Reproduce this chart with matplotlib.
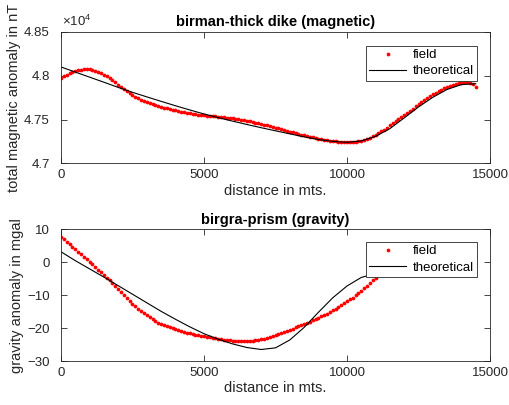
import numpy as np
import matplotlib
matplotlib.use("Agg")
import matplotlib.pyplot as plt
from matplotlib.ticker import FuncFormatter

plt.rcParams['font.family'] = ['Liberation Sans', 'DejaVu Sans']
plt.rcParams['mathtext.fontset'] = 'custom'
plt.rcParams['mathtext.rm'] = 'Liberation Sans'

# magnetic profile (birman - thick dike), field sampled every 100 m
mag_x = np.arange(0, 14501, 100)
mag_field = [
    47976, 47995, 48012, 48027, 48040, 48051, 48062, 48072, 48078, 48080,
    48078, 48070, 48060, 48048, 48032, 48014, 47993, 47970, 47947, 47924,
    47900, 47876, 47852, 47829, 47806, 47784, 47764, 47745, 47728, 47713,
    47700, 47688, 47676, 47665, 47655, 47645, 47636, 47628, 47620, 47612,
    47605, 47598, 47591, 47584, 47578, 47572, 47567, 47562, 47558, 47554,
    47550, 47547, 47544, 47541, 47538, 47534, 47530, 47526, 47522, 47518,
    47514, 47509, 47504, 47499, 47493, 47487, 47480, 47473, 47466, 47458,
    47450, 47442, 47434, 47425, 47416, 47408, 47400, 47391, 47382, 47373,
    47364, 47355, 47346, 47338, 47329, 47321, 47313, 47306, 47298, 47291,
    47285, 47279, 47273, 47267, 47262, 47257, 47253, 47249, 47246, 47244,
    47243, 47243, 47245, 47248, 47253, 47260, 47269, 47280, 47293, 47308,
    47325, 47344, 47365, 47387, 47410, 47434, 47459, 47483, 47505, 47528,
    47552, 47577, 47602, 47627, 47651, 47675, 47699, 47722, 47745, 47767,
    47788, 47808, 47827, 47844, 47861, 47875, 47887, 47898, 47908, 47916,
    47923, 47927, 47928, 47922, 47905, 47875,
]
mag_theo_x = np.arange(0, 14501, 500)
mag_theo = [
    48101, 48043, 47985, 47927, 47868, 47812, 47760, 47709, 47659, 47611,
    47565, 47523, 47483, 47445, 47408, 47373, 47338, 47304, 47274, 47252,
    47242, 47258, 47310, 47398, 47520, 47645, 47755, 47845, 47900, 47910,
]

# gravity profile (birgra - prism), field sampled every 100 m
grav_x = np.arange(0, 11001, 100)
grav_field = [
    7.8, 7.1, 6.3, 5.5, 4.7, 3.9, 3.2, 2.4, 1.7, 0.9,
    0.2, -0.6, -1.4, -2.2, -3.0, -3.8, -4.7, -5.5, -6.4, -7.3,
    -8.2, -9.1, -10.0, -10.9, -11.8, -12.6, -13.4, -14.1, -14.8, -15.5,
    -16.1, -16.7, -17.3, -17.8, -18.3, -18.7, -19.1, -19.5, -19.8, -20.1,
    -20.4, -20.7, -20.9, -21.2, -21.4, -21.6, -21.8, -22.0, -22.2, -22.4,
    -22.5, -22.7, -22.8, -23.0, -23.1, -23.2, -23.4, -23.5, -23.6, -23.7,
    -23.8, -23.8, -23.9, -23.9, -24.0, -24.0, -23.9, -23.8, -23.7, -23.6,
    -23.4, -23.2, -23.0, -22.8, -22.5, -22.2, -21.9, -21.6, -21.3, -20.9,
    -20.5, -20.2, -19.8, -19.5, -19.1, -18.8, -18.4, -18.0, -17.6, -17.2,
    -16.8, -16.4, -16.0, -15.6, -15.1, -14.6, -14.1, -13.6, -13.1, -12.5,
    -11.9, -11.3, -10.7, -10.0, -9.3, -8.6, -7.9, -7.1, -6.3, -5.5,
    -4.7,
]
grav_theo_x = np.arange(0, 11001, 500)
grav_theo = [
    3.2, 0.5, -2.0, -4.5, -7.1, -9.7, -12.3, -14.9, -17.3, -19.6,
    -21.7, -23.4, -24.8, -25.9, -26.5, -26.0, -23.6, -19.8, -15.2, -10.8,
    -7.2, -4.6, -3.4,
]

gray = (0.15, 0.15, 0.15)

fig = plt.figure(figsize=(5.1, 4.05), dpi=100)
ax1 = fig.add_axes([0.1196, 0.5963, 0.8412, 0.3247])
ax2 = fig.add_axes([0.1196, 0.1086, 0.8412, 0.3250])


def style(ax):
    for s in ax.spines.values():
        s.set_color(gray)
        s.set_linewidth(0.6)
    ax.tick_params(direction='in', top=True, right=True, length=4, width=0.6,
                   colors=gray, labelsize=9.5)
    ax.tick_params(axis='y', pad=8)
    ax.tick_params(axis='x', pad=4)
    ax.set_xlim(0, 15000)
    ax.set_xticks([0, 5000, 10000, 15000])


# top: magnetic
ax1.plot(mag_x, mag_field, 'o', color='red', ms=2.7, mew=0, label='field')
ax1.plot(mag_theo_x, mag_theo, '-', color='k', lw=0.8, label='theoretical')
style(ax1)
ax1.set_ylim(47000, 48500)
ax1.set_yticks([47000, 47500, 48000, 48500])
ax1.yaxis.set_major_formatter(FuncFormatter(lambda v, p: '%g' % (v / 1e4)))
ax1.text(0.002, 1.025, r'$\times10^{4}$', transform=ax1.transAxes,
         fontsize=9.5, color=gray, va='bottom', ha='left')
ax1.set_title('birman-thick dike (magnetic)', fontsize=10.5, fontweight='bold', pad=4)
ax1.set_xlabel('distance in mts.', fontsize=10.5, color=gray, labelpad=2)
ax1.set_ylabel('total magnetic anomaly in nT', fontsize=10.5, color=gray, labelpad=2)
leg1 = ax1.legend(loc='upper right', bbox_to_anchor=(0.970, 0.896), borderaxespad=0,
                  fontsize=9.5, fancybox=False, framealpha=1, edgecolor=gray,
                  handlelength=2.8, handletextpad=0.5, borderpad=0.25, labelspacing=0.3)
leg1.get_frame().set_linewidth(0.6)

# bottom: gravity
ax2.plot(grav_x, grav_field, 'o', color='red', ms=2.7, mew=0, label='field')
ax2.plot(grav_theo_x, grav_theo, '-', color='k', lw=0.8, label='theoretical')
style(ax2)
ax2.set_ylim(-30, 10)
ax2.set_yticks([-30, -20, -10, 0, 10])
ax2.set_title('birgra-prism (gravity)', fontsize=10.5, fontweight='bold', pad=4)
ax2.set_xlabel('distance in mts.', fontsize=10.5, color=gray, labelpad=2)
ax2.set_ylabel('gravity anomaly in mgal', fontsize=10.5, color=gray, labelpad=2)
leg2 = ax2.legend(loc='upper right', bbox_to_anchor=(0.970, 0.905), borderaxespad=0,
                  fontsize=9.5, fancybox=False, framealpha=1, edgecolor=gray,
                  handlelength=2.8, handletextpad=0.5, borderpad=0.25, labelspacing=0.3)
leg2.get_frame().set_linewidth(0.6)

fig.savefig('out.png', dpi=100)
